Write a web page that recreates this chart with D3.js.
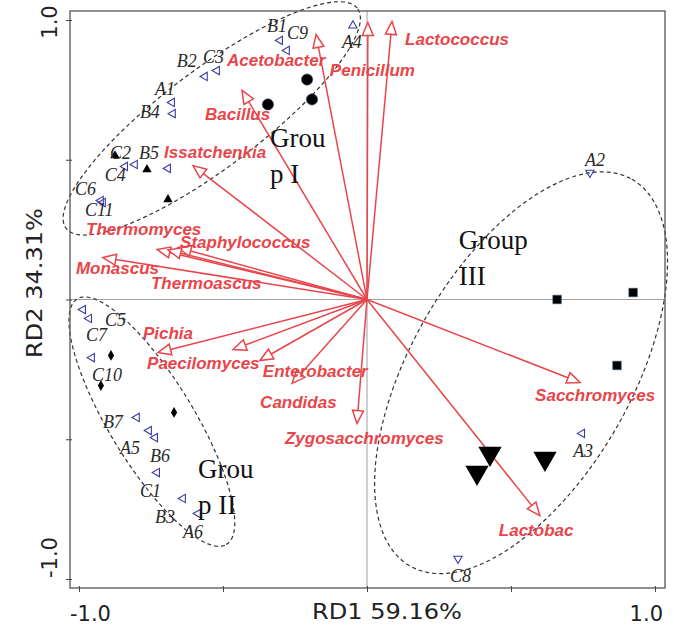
<!DOCTYPE html>
<html>
<head>
<meta charset="utf-8">
<script src="https://cdn.jsdelivr.net/npm/d3@7"></script>
<style>
  body { margin: 0; background: #fff; }
</style>
</head>
<body>
<div id="container"></div>
<script>
const width = 674, height = 628;

// species arrows: tip coordinates on RD1 / RD2
const species = ["Lactococcus", "Penicillum", "Acetobacter", "Bacillus", "Issatchenkia",
  "Thermomyces", "Staphylococcus", "Thermoascus", "Monascus", "Pichia", "Paecilomyces",
  "Enterobacter", "Candidas", "Zygosacchromyces", "Sacchromyces", "Lactobac"];
const speciesRD1 = [0.087, 0.003, -0.177, -0.434, -0.604, -0.729, -0.656, -0.691, -0.917,
  -0.726, -0.465, -0.372, -0.26, -0.035, 0.74, 0.60];
const speciesRD2 = [0.995, 0.991, 0.948, 0.748, 0.479, 0.179, 0.186, 0.177, 0.150,
  -0.19, -0.179, -0.218, -0.30, -0.444, -0.297, -0.773];

// samples (open triangles)
const samples = ["B1", "C9", "A4", "B2", "C3", "A1", "B4", "C2", "C4", "B5", "C6", "C11",
  "C5", "C7", "C10", "B7", "A5", "B6", "C1", "B3", "A6",
  "A2", "A3", "C8"];
const sampleRD1 = [-0.302, -0.278, -0.049, -0.563, -0.521, -0.677, -0.674, -0.840, -0.806, -0.691, -0.924, -0.917,
  -0.986, -0.965, -0.955, -0.799, -0.757, -0.736, -0.729, -0.639, -0.587,
  0.774, 0.747, 0.316];
const sampleRD2 = [0.927, 0.891, 0.980, 0.798, 0.819, 0.705, 0.665, 0.476, 0.483, 0.469, 0.354, 0.347,
  -0.036, -0.068, -0.208, -0.422, -0.469, -0.494, -0.619, -0.712, -0.766,
  0.454, -0.479, -0.927];

// filled group markers
const circlePts = [[-0.208, 0.787], [-0.191, 0.716], [-0.344, 0.698]];
const smallTriPts = [[-0.875, 0.515], [-0.764, 0.465], [-0.691, 0.358]];
const diamondPts = [[-0.889, -0.200], [-0.924, -0.308], [-0.670, -0.404]];
const squarePts = [[0.660, 0.0], [0.924, 0.025], [0.868, -0.236]];
const bigTriPts = [[0.427, -0.551], [0.382, -0.619], [0.618, -0.569]];

// group ellipses: centre, semi-axes and angle in RD units
const groupNames = ["Group I", "Group II", "Group III"];
const ellipseCx = [-0.539, -0.747, 0.535];
const ellipseCy = [0.648, -0.437, -0.262];
const ellipseA = [0.641, 0.51, 0.792];
const ellipseB = [0.173, 0.148, 0.385];
const ellipseAngle = [38, -59.6, 61.3];
const groupLabelLines = [["Grou", "p I"], ["Grou", "p II"], ["Group", "III"]];
const groupLabelRD1 = [-0.337, -0.587, 0.319];
const groupLabelRD2 = [0.544, -0.64, 0.182];

const tickValues = [-1, -0.5, 0, 0.5, 1];
const tickLabels = ["-1.0", "1.0"];

// label offsets (px) from arrow tips / sample markers
const speciesDx = [13, -38, -89, -37, -29, -71, 2, -17, -27, -15, -86, 3, -32, -72, -45, -41];
const speciesDy = [24, 53, 31, 30, -8, -14, 0, 39, 16, -14, 19, 17, 25, 20, 18, 20];
const sampleDx = [-13, 0, -11, -28, -14, -17, -33, -15, -30, -29, -26, -18,
  22, -3, 0, -34, -29, -5, -17, -28, -15, -5, -9, -8];
const sampleDy = [-8, -11, 22, -9, -8, -7, 4, -7, 16, -9, -6, 13,
  16, 22, 23, 11, 23, 24, 24, 24, 24, -7, 24, 23];
const sampleRot = { A4: 0, A2: 180, C8: 180 };

const red = "#e8454a";
const navy = "#3a3aa8";

const x = d3.scaleLinear().domain([-1, 1]).range([79, 655]);
const y = d3.scaleLinear().domain([-1, 1]).range([579, 20]);
const frame = { left: 70, right: 665, top: 11, bottom: 588 };

const svg = d3.select("#container")
  .append("svg")
  .attr("width", width)
  .attr("height", height)
  .style("display", "block");

// zero lines
svg.append("line")
  .attr("x1", x(0)).attr("x2", x(0))
  .attr("y1", frame.top).attr("y2", frame.bottom)
  .attr("stroke", "#a0a0a0").attr("stroke-width", 1);
svg.append("line")
  .attr("x1", frame.left).attr("x2", frame.right)
  .attr("y1", y(0)).attr("y2", y(0))
  .attr("stroke", "#a0a0a0").attr("stroke-width", 1);

// group ellipses
const ellipseLine = d3.line().curve(d3.curveLinearClosed);
groupNames.forEach((g, i) => {
  const phi = ellipseAngle[i] * Math.PI / 180;
  const pts = d3.range(0, 360, 3).map(t => {
    const th = t * Math.PI / 180;
    const u = ellipseA[i] * Math.cos(th), v = ellipseB[i] * Math.sin(th);
    const ex = ellipseCx[i] + u * Math.cos(phi) - v * Math.sin(phi);
    const ey = ellipseCy[i] + u * Math.sin(phi) + v * Math.cos(phi);
    return [x(ex), y(ey)];
  });
  svg.append("path")
    .attr("d", ellipseLine(pts))
    .attr("fill", "none")
    .attr("stroke", "#333")
    .attr("stroke-width", 1.2)
    .attr("stroke-dasharray", "4,3");
});

// species arrows
const arrows = svg.append("g");
species.forEach((s, i) => {
  const x0 = x(0), y0 = y(0);
  const tx = x(speciesRD1[i]), ty = y(speciesRD2[i]);
  const len = Math.hypot(tx - x0, ty - y0);
  const ux = (tx - x0) / len, uy = (ty - y0) / len;
  const L = 13, W = 5.5;
  const bx = tx - L * ux, by = ty - L * uy;
  arrows.append("line")
    .attr("x1", x0).attr("y1", y0)
    .attr("x2", bx).attr("y2", by)
    .attr("stroke", red).attr("stroke-width", 1.5);
  arrows.append("path")
    .attr("d", `M${tx},${ty}L${bx - W * uy},${by + W * ux}L${bx + W * uy},${by - W * ux}Z`)
    .attr("fill", "#fff")
    .attr("stroke", red)
    .attr("stroke-width", 1.5);
});

// species labels
svg.append("g").selectAll("text")
  .data(species)
  .join("text")
  .attr("x", (d, i) => x(speciesRD1[i]) + speciesDx[i])
  .attr("y", (d, i) => y(speciesRD2[i]) + speciesDy[i])
  .attr("fill", red)
  .style("font-family", "'Liberation Sans', Arial, sans-serif")
  .style("font-weight", "bold")
  .style("font-style", "italic")
  .style("font-size", "17px")
  .text(d => d);

// filled markers
const sym = (type, size) => d3.symbol().type(type).size(size)();
svg.append("g").selectAll("path")
  .data(circlePts).join("path")
  .attr("transform", d => `translate(${x(d[0])},${y(d[1])})`)
  .attr("d", sym(d3.symbolCircle, 100))
  .attr("fill", "#000").attr("stroke", "#34506e").attr("stroke-width", 0.6);
svg.append("g").selectAll("path")
  .data(smallTriPts).join("path")
  .attr("transform", d => `translate(${x(d[0])},${y(d[1])})`)
  .attr("d", sym(d3.symbolTriangle, 38))
  .attr("fill", "#000");
svg.append("g").selectAll("path")
  .data(diamondPts).join("path")
  .attr("transform", d => `translate(${x(d[0])},${y(d[1])})`)
  .attr("d", sym(d3.symbolDiamond, 34))
  .attr("fill", "#000");
svg.append("g").selectAll("path")
  .data(squarePts).join("path")
  .attr("transform", d => `translate(${x(d[0])},${y(d[1])})`)
  .attr("d", sym(d3.symbolSquare, 72))
  .attr("fill", "#000").attr("stroke", "#34506e").attr("stroke-width", 0.6);
svg.append("g").selectAll("path")
  .data(bigTriPts).join("path")
  .attr("transform", d => `translate(${x(d[0])},${y(d[1])}) rotate(180)`)
  .attr("d", sym(d3.symbolTriangle, 235))
  .attr("fill", "#000");

// samples: open triangles + italic labels
svg.append("g").selectAll("path")
  .data(samples).join("path")
  .attr("transform", (d, i) => `translate(${x(sampleRD1[i])},${y(sampleRD2[i])}) rotate(${d in sampleRot ? sampleRot[d] : -90})`)
  .attr("d", sym(d3.symbolTriangle, 30))
  .attr("fill", "none")
  .attr("stroke", navy)
  .attr("stroke-width", 1.1);
svg.append("g").selectAll("text")
  .data(samples).join("text")
  .attr("x", (d, i) => x(sampleRD1[i]) + sampleDx[i])
  .attr("y", (d, i) => y(sampleRD2[i]) + sampleDy[i])
  .attr("fill", "#2a2a2a")
  .style("font-family", "'Liberation Serif', 'Times New Roman', serif")
  .style("font-style", "italic")
  .style("font-size", "18px")
  .text(d => d);

// group labels
groupNames.forEach((g, i) => {
  const t = svg.append("text")
    .attr("x", x(groupLabelRD1[i]))
    .attr("y", y(groupLabelRD2[i]))
    .attr("fill", "#111")
    .style("font-family", "'Liberation Serif', 'Times New Roman', serif")
    .style("font-size", "27px");
  groupLabelLines[i].forEach((line, j) => {
    t.append("tspan")
      .attr("x", x(groupLabelRD1[i]))
      .attr("dy", j === 0 ? 0 : 36)
      .text(line);
  });
});

// frame
svg.append("rect")
  .attr("x", frame.left).attr("y", frame.top)
  .attr("width", frame.right - frame.left)
  .attr("height", frame.bottom - frame.top)
  .attr("fill", "none")
  .attr("stroke", "#555")
  .attr("stroke-width", 1.3);

// ticks
svg.append("g")
  .attr("transform", `translate(0,${frame.bottom - 2})`)
  .call(d3.axisBottom(x).tickValues(tickValues).tickSize(6).tickFormat(""))
  .call(g => g.select(".domain").remove())
  .call(g => g.selectAll(".tick line").attr("stroke", "#444"));
svg.append("g")
  .attr("transform", `translate(${frame.left + 2},0)`)
  .call(d3.axisLeft(y).tickValues(tickValues).tickSize(6).tickFormat(""))
  .call(g => g.select(".domain").remove())
  .call(g => g.selectAll(".tick line").attr("stroke", "#444"));

// tick labels
const tickFont = "'DejaVu Sans', 'Liberation Sans', sans-serif";
svg.append("text")
  .attr("x", x(-1) - 9).attr("y", 621)
  .attr("fill", "#222")
  .style("font-family", tickFont).style("font-size", "21px")
  .text(tickLabels[0]);
svg.append("text")
  .attr("x", x(1) + 8).attr("y", 621)
  .attr("text-anchor", "end")
  .attr("fill", "#222")
  .style("font-family", tickFont).style("font-size", "21px")
  .text(tickLabels[1]);
svg.append("text")
  .attr("transform", `translate(57,${y(1) + 2}) rotate(-90)`)
  .attr("text-anchor", "middle")
  .attr("fill", "#222")
  .style("font-family", tickFont).style("font-size", "21px")
  .text(tickLabels[1]);
svg.append("text")
  .attr("transform", `translate(57,${y(-1) - 1}) rotate(-90)`)
  .attr("text-anchor", "start")
  .attr("fill", "#222")
  .style("font-family", tickFont).style("font-size", "21px")
  .text(tickLabels[0]);

// axis titles
svg.append("text")
  .attr("x", 312).attr("y", 619)
  .attr("fill", "#222")
  .attr("textLength", 150).attr("lengthAdjust", "spacingAndGlyphs")
  .style("font-family", tickFont).style("font-size", "21px")
  .text("RD1 59.16%");
svg.append("text")
  .attr("transform", "translate(42,358) rotate(-90)")
  .attr("fill", "#222")
  .attr("textLength", 150).attr("lengthAdjust", "spacingAndGlyphs")
  .style("font-family", tickFont).style("font-size", "22px")
  .text("RD2 34.31%");
</script>
</body>
</html>
